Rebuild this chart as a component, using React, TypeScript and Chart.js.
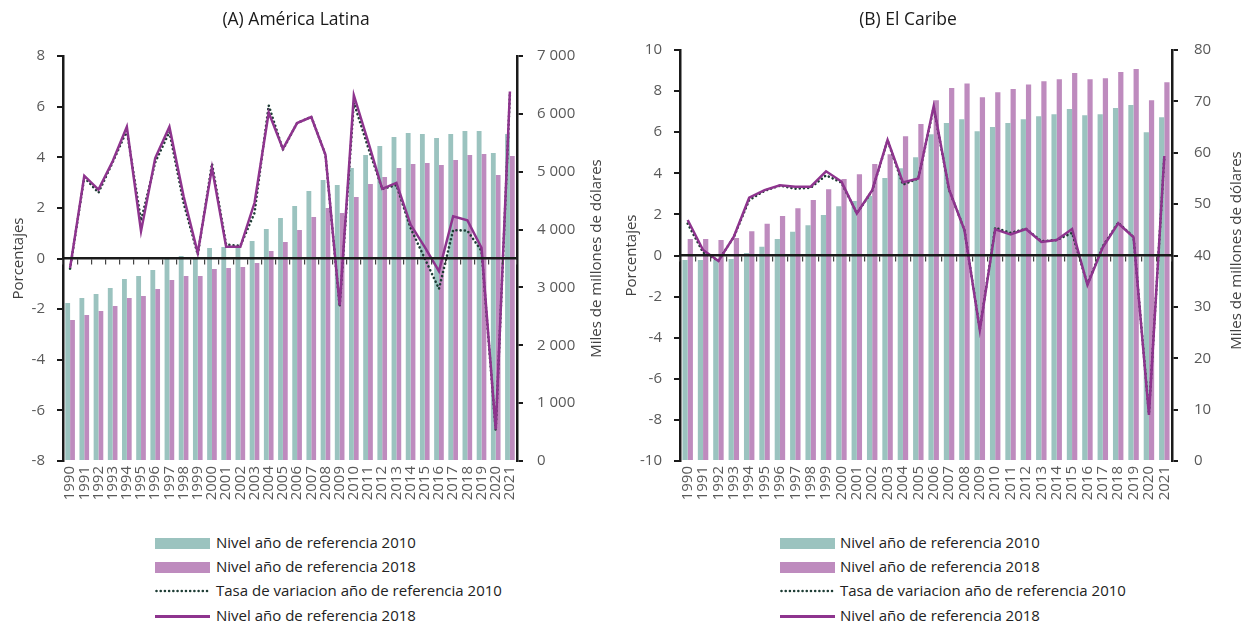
import React, { useEffect, useRef } from "react";
import { Chart, registerables } from "chart.js";

Chart.register(...registerables);

const years = ["1990","1991","1992","1993","1994","1995","1996","1997","1998","1999","2000","2001","2002","2003","2004","2005","2006","2007","2008","2009","2010","2011","2012","2013","2014","2015","2016","2017","2018","2019","2020","2021"];

// (A) América Latina — levels (miles de millones de dólares, right axis)
const latNivel2010 = [2731,2817,2886,2990,3146,3198,3301,3509,3543,3526,3681,3699,3716,3802,4010,4200,4407,4667,4857,4770,5064,5289,5444,5600,5669,5652,5583,5652,5704,5704,5323,5652];
const latNivel2018 = [2437,2523,2593,2679,2817,2852,2973,3128,3198,3198,3319,3336,3353,3422,3630,3785,3993,4217,4373,4286,4563,4788,4909,5064,5133,5151,5116,5202,5289,5306,4943,5272];
// (A) rates (porcentajes, left axis)
const latTasa2010 = [-0.4,3.2,2.6,3.8,5.05,1.5,3.8,5.0,2.2,0.15,3.75,0.55,0.5,1.8,6.05,4.3,5.35,5.6,4.1,-1.9,6.15,4.4,2.75,2.9,1.2,0.0,-1.2,1.12,1.1,0.3,-6.8,6.5];
const latTasa2018 = [-0.37,3.27,2.72,3.84,5.2,1.08,3.97,5.2,2.46,0.22,3.58,0.46,0.46,2.2,5.77,4.33,5.35,5.59,4.1,-1.85,6.45,4.63,2.75,2.99,1.34,0.45,-0.5,1.67,1.51,0.42,-6.75,6.6];

// (B) El Caribe — levels (right axis)
const carNivel2010 = [39.1,39.1,39.2,39.3,40.5,41.7,43.2,44.6,45.9,47.9,49.6,50.6,51.6,55.1,57.0,59.1,63.6,65.8,66.5,64.2,65.0,65.8,66.5,67.1,67.5,68.5,67.3,67.5,68.7,69.3,64.0,66.9];
const carNivel2018 = [43.2,43.2,43.0,43.4,44.7,46.2,47.7,49.2,50.8,52.9,54.9,55.8,57.8,59.7,63.2,65.6,70.2,72.6,73.5,70.8,71.8,72.4,73.3,73.9,74.3,75.5,74.3,74.5,75.7,76.3,70.2,73.7];
// (B) rates (left axis)
const carTasa2010 = [1.55,0.15,-0.25,0.9,2.7,3.15,3.4,3.25,3.3,3.9,3.55,2.05,3.15,5.6,3.45,3.75,7.2,3.2,1.25,-3.6,1.35,1.1,1.3,0.7,0.75,1.1,-1.4,0.45,1.6,0.9,-7.7,4.8];
const carTasa2018 = [1.73,0.27,-0.27,0.92,2.81,3.18,3.42,3.35,3.35,4.1,3.6,2.05,3.18,5.62,3.56,3.75,7.27,3.22,1.24,-3.62,1.27,1.03,1.29,0.66,0.75,1.29,-1.43,0.4,1.57,0.88,-7.76,4.84];

const legendLabels = [
  "Nivel año de referencia 2010",
  "Nivel año de referencia 2018",
  "Tasa de variacion año de referencia 2010",
  "Nivel año de referencia 2018",
];

const FONT = "'Open Sans', sans-serif";
const TEAL = "#9BC3BF";
const PURPLE_BAR = "#BE8BBE";
const LINE_PURPLE = "#8E348E";
const DOT = "#1E3D35";
const AXIS = "#1a1a1a";
const TICK = "#595959";

const fmtThousands = (v: number) =>
  String(v).replace(/\B(?=(\d{3})+(?!\d))/g, " ");

const overlayPlugin = {
  id: "overlay",
  afterDraw(chart: any, _args: any, opts: any) {
    const { ctx, chartArea } = chart;
    const cy = (chartArea.top + chartArea.bottom) / 2;
    ctx.save();
    ctx.textAlign = "center";
    ctx.textBaseline = "middle";
    ctx.fillStyle = "#1a1a1a";
    ctx.font = `17.5px ${FONT}`;
    ctx.fillText(opts.title, opts.titleX, 20);
    ctx.fillStyle = "#404040";
    ctx.font = `15px ${FONT}`;
    ctx.save();
    ctx.translate(opts.leftTitleX, cy);
    ctx.rotate(-Math.PI / 2);
    ctx.fillText(opts.leftTitle, 0, 0);
    ctx.restore();
    ctx.save();
    ctx.translate(opts.rightTitleX, cy + opts.rightTitleDy);
    ctx.rotate(-Math.PI / 2);
    ctx.fillText(opts.rightTitle, 0, 0);
    ctx.restore();
    ctx.restore();
  },
};

type PanelProps = {
  width: number;
  height: number;
  top: number;
  leftW: number;
  rightW: number;
  yMin: number;
  yMax: number;
  yStep: number;
  y1Max: number;
  y1Step: number;
  bar2010: number[];
  bar2018: number[];
  tasa2010: number[];
  tasa2018: number[];
  title: string;
  titleX: number;
  leftTitleX: number;
  rightTitleX: number;
  rightTitleDy: number;
  catPct: number;
  rightPad: number;
  fmt?: (v: number) => string;
};

function Panel(p: PanelProps) {
  const ref = useRef<HTMLCanvasElement | null>(null);
  useEffect(() => {
    if (!ref.current) return;
    const tickFont = { family: FONT, size: 15 };
    const chart = new Chart(ref.current, {
      type: "bar",
      data: {
        labels: years,
        datasets: [
          {
            type: "line",
            label: legendLabels[3],
            data: p.tasa2018,
            xAxisID: "x",
            yAxisID: "y",
            borderColor: LINE_PURPLE,
            borderWidth: 2.5,
            pointRadius: 0,
            tension: 0,
            order: 0,
          },
          {
            type: "line",
            label: legendLabels[2],
            data: p.tasa2010,
            xAxisID: "x",
            yAxisID: "y",
            borderColor: DOT,
            borderWidth: 2.6,
            borderDash: [0.01, 4.2],
            borderCapStyle: "round",
            pointRadius: 0,
            tension: 0,
            order: 1,
          },
          {
            type: "bar",
            label: legendLabels[0],
            data: p.bar2010,
            xAxisID: "x",
            yAxisID: "y1",
            backgroundColor: TEAL,
            categoryPercentage: p.catPct,
            barPercentage: 1,
            order: 2,
          },
          {
            type: "bar",
            label: legendLabels[1],
            data: p.bar2018,
            xAxisID: "x",
            yAxisID: "y1",
            backgroundColor: PURPLE_BAR,
            categoryPercentage: p.catPct,
            barPercentage: 1,
            order: 2,
          },
        ],
      } as any,
      options: {
        responsive: false,
        animation: false,
        layout: { padding: { top: p.top, left: 0, right: 0, bottom: 0 } },
        plugins: {
          legend: { display: false },
          title: { display: false },
          tooltip: { enabled: false },
          overlay: {
            title: p.title,
            titleX: p.titleX,
            leftTitle: "Porcentajes",
            rightTitle: "Miles de millones de dólares",
            leftTitleX: p.leftTitleX,
            rightTitleX: p.rightTitleX,
            rightTitleDy: p.rightTitleDy,
          },
        } as any,
        scales: {
          x: {
            type: "category",
            position: "bottom",
            offset: true,
            grid: { display: false, drawTicks: false },
            border: { display: false },
            ticks: {
              minRotation: 90,
              maxRotation: 90,
              autoSkip: false,
              color: TICK,
              font: tickFont,
              padding: 5,
            },
            afterFit: (s: any) => {
              s.height = p.height - 461;
            },
          },
          x2: {
            type: "category",
            position: { y: 0 },
            offset: true,
            grid: {
              offset: true,
              drawOnChartArea: false,
              drawTicks: true,
              tickLength: 5,
              color: "#444",
              lineWidth: 1.2,
              z: 1,
            },
            border: { display: true, color: AXIS, width: 2.5, z: 1 },
            ticks: { display: false, z: 1 },
          },
          y: {
            position: "left",
            min: p.yMin,
            max: p.yMax,
            ticks: { stepSize: p.yStep, color: TICK, font: tickFont, padding: 12 },
            grid: { drawOnChartArea: false, drawTicks: true, tickLength: 6, color: AXIS, lineWidth: 2 },
            border: { display: true, color: AXIS, width: 2.5 },
            afterFit: (s: any) => {
              s.width = p.leftW;
            },
          },
          y1: {
            position: "right",
            min: 0,
            max: p.y1Max,
            ticks: {
              stepSize: p.y1Step,
              color: TICK,
              font: tickFont,
              padding: p.rightPad,
              callback: (v: any) => (p.fmt ? p.fmt(Number(v)) : String(v)),
            },
            grid: { drawOnChartArea: false, drawTicks: true, tickLength: 6, color: AXIS, lineWidth: 2 },
            border: { display: true, color: AXIS, width: 2.5 },
            afterFit: (s: any) => {
              s.width = p.rightW;
            },
          },
        } as any,
      },
      plugins: [overlayPlugin as any],
    });
    return () => chart.destroy();
  }, []);
  return <canvas ref={ref} width={p.width} height={p.height} style={{ display: "block" }} />;
}

function Legend({ left, swatchLeft }: { left: number; swatchLeft: number }) {
  const rows = [543, 567, 591, 616];
  const textStyle: React.CSSProperties = {
    position: "absolute",
    left: left,
    fontFamily: FONT,
    fontSize: 15,
    color: "#222",
    whiteSpace: "nowrap",
    lineHeight: "20px",
  };
  return (
    <>
      <div style={{ position: "absolute", left: swatchLeft, top: rows[0] - 5, width: 55, height: 11, background: TEAL }} />
      <div style={{ position: "absolute", left: swatchLeft, top: rows[1] - 5, width: 55, height: 11, background: PURPLE_BAR }} />
      <svg style={{ position: "absolute", left: swatchLeft, top: rows[2] - 3 }} width={56} height={6}>
        <line x1={1.5} y1={3} x2={55} y2={3} stroke={DOT} strokeWidth={2.6} strokeDasharray="0.01 4.2" strokeLinecap="round" />
      </svg>
      <div style={{ position: "absolute", left: swatchLeft, top: rows[3] - 1, width: 55, height: 2.5, background: LINE_PURPLE }} />
      {legendLabels.map((t, i) => (
        <div key={i} style={{ ...textStyle, top: rows[i] - 11 }}>{t}</div>
      ))}
    </>
  );
}

export default function App() {
  return (
    <div style={{ position: "fixed", left: 0, top: 0, width: 1246, height: 625, background: "#fff", overflow: "hidden" }}>
      <div style={{ position: "absolute", left: 0, top: 0 }}>
        <Panel
          width={620}
          height={530}
          top={56}
          leftW={63}
          rightW={103}
          yMin={-8}
          yMax={8}
          yStep={2}
          y1Max={7000}
          y1Step={1000}
          bar2010={latNivel2010}
          bar2018={latNivel2018}
          tasa2010={latTasa2010}
          tasa2018={latTasa2018}
          title="(A) América Latina"
          titleX={296}
          leftTitleX={19}
          rightTitleX={597}
          rightTitleDy={0}
          catPct={0.68}
          rightPad={14}
          fmt={fmtThousands}
        />
      </div>
      <div style={{ position: "absolute", left: 620, top: 0 }}>
        <Panel
          width={626}
          height={530}
          top={50}
          leftW={60}
          rightW={74}
          yMin={-10}
          yMax={10}
          yStep={2}
          y1Max={80}
          y1Step={10}
          bar2010={carNivel2010}
          bar2018={carNivel2018}
          tasa2010={carTasa2010}
          tasa2018={carTasa2018}
          title="(B) El Caribe"
          titleX={288}
          leftTitleX={12}
          rightTitleX={617}
          rightTitleDy={-5}
          catPct={0.68}
          rightPad={16}
        />
      </div>
      <Legend left={216} swatchLeft={155} />
      <Legend left={840} swatchLeft={780} />
    </div>
  );
}
